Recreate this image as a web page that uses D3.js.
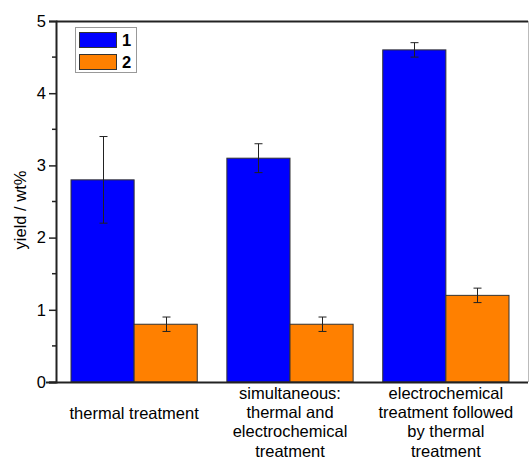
<!DOCTYPE html>
<html><head><meta charset="utf-8">
<script src="https://cdn.jsdelivr.net/npm/d3@7"></script>
<style>body{margin:0;background:#fff}svg{display:block;font-family:"Liberation Sans",Arial,sans-serif}</style>
</head><body><svg id="c" width="529" height="459"></svg>
<script>
const categories = [["thermal treatment"],["simultaneous:","thermal and","electrochemical","treatment"],["electrochemical","treatment followed","by thermal","treatment"]];
const series = ["1","2"];
const values1 = [2.8, 3.1, 4.6];
const errors1 = [0.6, 0.2, 0.1];
const values2 = [0.8, 0.8, 1.2];
const errors2 = [0.1, 0.1, 0.1];
const yTicks = [0,1,2,3,4,5];
const colors = ["#0000ff","#ff8000"];

const svg = d3.select("#c");
const L=56, R=528, T=21, B=382;
const FS = 16.5;
const x = d3.scaleBand().domain([0,1,2]).range([71,509]).paddingInner(0.19).paddingOuter(0);
const xs = d3.scaleBand().domain([0,1]).range([0,x.bandwidth()]);
const y = d3.scaleLinear().domain([0,5]).range([B,T]);

// frame
svg.append("line").attr("x1",L).attr("x2",R).attr("y1",T+0.5).attr("y2",T+0.5).attr("stroke","#222").attr("stroke-width",2);
svg.append("line").attr("x1",R+0.5).attr("x2",R+0.5).attr("y1",T).attr("y2",B).attr("stroke","#bbb").attr("stroke-width",1);

const data = [values1, values2], errs=[errors1, errors2];
data.forEach((vals,s)=>{
  const g = svg.append("g");
  vals.forEach((v,i)=>{
    g.append("rect").attr("x",x(i)+xs(s)).attr("y",y(v)).attr("width",xs.bandwidth()).attr("height",y(0)-y(v))
     .attr("fill",colors[s]).attr("stroke","#333").attr("stroke-width",1);
  });
  vals.forEach((v,i)=>{
    const cx = Math.round(x(i)+xs(s)+xs.bandwidth()/2)+0.5;
    const e = errs[s][i];
    g.append("line").attr("x1",cx).attr("x2",cx).attr("y1",y(v+e)).attr("y2",y(v-e)).attr("stroke","#222");
    [v+e,v-e].forEach(t=>g.append("line").attr("x1",cx-4).attr("x2",cx+4).attr("y1",y(t)).attr("y2",y(t)).attr("stroke","#222"));
  });
});

// y axis
const ya = svg.append("g").attr("transform",`translate(${L},0)`)
  .call(d3.axisLeft(y).tickValues(yTicks).tickSize(7).tickPadding(3).tickFormat(d3.format("d")));
ya.select(".domain").attr("stroke","#222").attr("stroke-width",2);
ya.selectAll(".tick line").attr("stroke","#222").attr("stroke-width",1.5);
ya.selectAll("text").attr("font-size",FS).attr("fill","#000").attr("font-family","Liberation Sans, Arial, sans-serif");
const minor = [0.5,1.5,2.5,3.5,4.5];
svg.append("g").selectAll("line").data(minor).join("line")
  .attr("x1",L-4).attr("x2",L).attr("y1",d=>y(d)).attr("y2",d=>y(d)).attr("stroke","#222").attr("stroke-width",1.5);

// x axis baseline
svg.append("line").attr("x1",L-10).attr("x2",R).attr("y1",B+0.5).attr("y2",B+0.5).attr("stroke","#222").attr("stroke-width",2);

// category labels
categories.forEach((lines,i)=>{
  const cx = x(i)+x.bandwidth()/2;
  const start = lines.length===1 ? 413 : 393;
  lines.forEach((t,k)=>{
    svg.append("text").attr("x",cx).attr("y",start+k*19.3).attr("dy","0.35em").attr("text-anchor","middle")
      .attr("font-size",FS).text(t);
  });
});

// y label
svg.append("text").attr("transform","translate(20,210) rotate(-90)").attr("text-anchor","middle").attr("dy","0.35em")
  .attr("font-size",FS).text("yield / wt%");

// legend
const lg = svg.append("g");
lg.append("rect").attr("x",75.5).attr("y",27.5).attr("width",61).attr("height",45).attr("fill","#fff").attr("stroke","#999");
series.forEach((s,k)=>{
  lg.append("rect").attr("x",79.5).attr("y",32.5+k*22).attr("width",37).attr("height",15).attr("fill",colors[k]).attr("stroke","#333");
  lg.append("text").attr("x",122).attr("y",40+k*22).attr("dy","0.35em").attr("font-size",FS).attr("font-weight","bold").text(s);
});
</script></body></html>
